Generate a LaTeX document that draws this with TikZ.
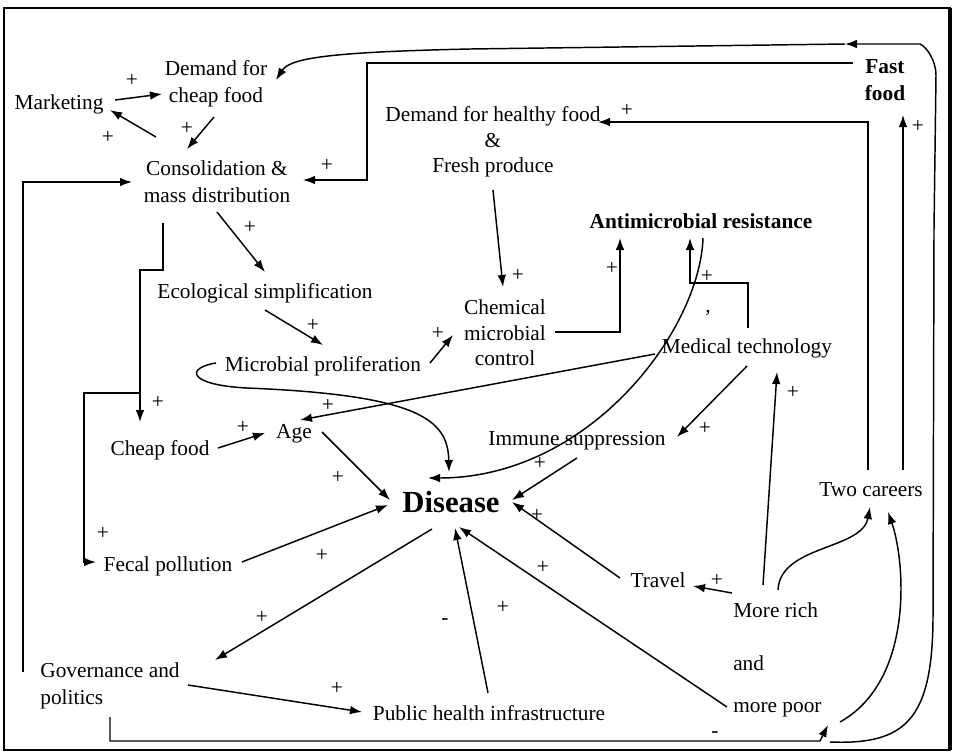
\documentclass[tikz,border=0pt]{standalone}
\usepackage{fontspec}
\setmainfont{Liberation Serif}
\usetikzlibrary{calc,arrows.meta}
\begin{document}
\begin{tikzpicture}[x=0.75pt,y=-0.75pt,
  txt/.style={inner sep=0pt,align=center,font=\fontsize{16}{20}\selectfont},
  btxt/.style={txt,font=\fontsize{16}{20}\selectfont\bfseries},
  lab/.style={inner sep=0pt,font=\fontsize{16}{20}\selectfont},
  conn/.style={line width=1.1pt},
  arr/.style={conn,-{Latex[length=9pt,width=6.5pt]}}]
\useasboundingbox (0,0) rectangle (954,754);
\draw[line width=1.5pt] (4,8) rectangle (950,750);
\draw[line width=3pt] (950,8) -- (950,750);

% nodes
\node[txt] (mkt) at (59,104) {Marketing};
\node[txt] (dcf) at (216,84) {Demand for\\cheap food};
\node[txt] (cons) at (217,182) {Consolidation \&\\mass distribution};
\node[txt,font=\fontsize{16}{19}\selectfont] (dhf) at (493,142) {Demand for healthy food\\\&\\Fresh produce};
\node[btxt] (fast) at (885,80) {Fast\\food};
\node[btxt] (amr) at (701,221) {Antimicrobial resistance};
\node[txt] (eco) at (265,293) {Ecological simplification};
\node[txt,font=\fontsize{16}{19}\selectfont] (chem) at (505,333) {Chemical\\microbial\\control};
\node[txt] (prol) at (323,366) {Microbial proliferation};
\node[txt] (med) at (747,348) {Medical technology};
\node[txt] (imm) at (577,441) {Immune suppression};
\node[txt] (cheap) at (160,450) {Cheap food};
\node[txt] (age) at (294,434) {Age};
\node[txt,font=\fontsize{23}{27}\selectfont\bfseries] (dis) at (451,502) {Disease};
\node[txt] (fecal) at (168,566) {Fecal pollution};
\node[txt,align=left] (gov) at (110,686) {Governance and\\politics};
\node[txt] (pub) at (489,713) {Public health infrastructure};
\node[txt] (travel) at (658,580) {Travel};
\node[txt,anchor=west] (rich) at (733,610) {More rich};
\node[txt,anchor=west] (and) at (733,663) {and};
\node[txt,anchor=west] (poor) at (733,710) {more poor};
\node[txt] (two) at (871,490) {Two careers};
\node[lab] (comma) at (708,313) {,};

% connectors
\draw[arr] ($(mkt)+(56,-4)$) -- ($(dcf)+(-54,10)$);
\draw[arr] ($(cons)+(-61,-45)$) -- ($(mkt)+(51,6)$);
\draw[arr] ($(dcf)+(-2,33)$) -- ($(cons)+(-30,-33)$);
\coordinate (loopmid) at (845,44);
\draw[arr] ($(poor.west)+(97,32)$) .. controls (905,745) and (932,720) .. (933,620) -- (934,230) -- (936,75) .. controls (936,62) and (928,48) .. (920,44) -- (loopmid);
\draw[arr] (loopmid) -- (470,49) .. controls (330,52) and (290,58) .. ($(dcf)+(60,-4)$);
\draw[arr] ($(fast)+(-32,-17)$) -| ($(cons)+(150,-2)$) -- ($(cons)+(86,-2)$);
\draw[arr] ($(two)+(-3,-20)$) |- ($(dhf)+(105,-20)$);
\draw[arr] ($(two)+(32,-20)$) -- ($(fast)+(18,35)$);
\draw[arr] ($(dhf)+(0,48)$) -- ($(chem)+(-2,-46)$);
\draw[arr] ($(chem)+(50,-1)$) -| ($(amr)+(-81,17)$);
\draw[arr] ($(med)+(1,-20)$) |- ($(amr)+(-11,62)$) -- ($(amr)+(-11,17)$);
\draw[arr] ($(amr)+(2,17)$) .. controls (700,330) and (590,478) .. ($(dis)+(-23,-24)$);
\draw[arr] ($(prol)+(-107,-3)$) .. controls (185,368) and (188,385) .. (247,388) .. controls (420,395) and (448,420) .. ($(dis)+(-2,-30)$);
\draw[arr] ($(prol)+(107,-3)$) -- ($(chem)+(-52,2)$);
\draw[arr] ($(eco)+(0,17)$) -- ($(prol)+(0,-21)$);
\draw[arr] ($(cons)+(0,30)$) -- ($(eco)+(0,-21)$);
\coordinate (br) at ($(cheap)+(-20,-57)$);
\draw[arr] ($(cons)+(-54,41)$) -- ($(cons)+(-54,88)$) -| ($(cheap)+(-20,-28)$);
\draw[arr] (br) -| ($(fecal)+(-84,-4)$) -- ($(fecal)+(-72,-4)$);
\draw[arr] ($(cheap)+(58,-2)$) -- ($(age)+(-29,-1)$);
\draw[arr] ($(med)+(-92,6)$) -- ($(age)+(6,-14)$);
\draw[arr] ($(age)+(28,-2)$) -- ($(dis)+(-61,-2)$);
\draw[arr] ($(imm)+(0,17)$) -- ($(dis)+(61,-2)$);
\draw[arr] ($(med)+(0,18)$) -- ($(imm)+(100,-4)$);
\draw[arr] ($(fecal)+(74,-4)$) -- ($(dis)+(-63,3)$);
\draw[arr] ($(dis)+(-19,27)$) -- ($(gov)+(105,-26)$);
\draw[arr] ($(gov)+(78,-1)$) -- ($(pub)+(-127,-1)$);
\draw[arr] ($(pub)+(-1,-20)$) -- ($(dis)+(4,26)$);
\draw[arr] ($(poor.west)+(-6,-3)$) -- ($(dis)+(8,25)$);
\draw[arr] ($(travel)+(-38,-2)$) -- ($(dis)+(61,0)$);
\draw[arr] ($(rich.west)+(-1,-17)$) -- ($(travel)+(35,6)$);
\draw[arr] ($(rich.west)+(30,-25)$) -- ($(med)+(30,24)$);
\draw[arr] ($(rich.west)+(45,-20)$) .. controls (780,545) and (862,550) .. ($(two)+(-1,17)$);
\draw[arr] ($(poor.west)+(107,12)$) .. controls (915,680) and (905,560) .. ($(two)+(17,22)$);
\draw[arr] ($(gov)+(0,31)$) |- ($(poor.west)+(87,31)$) -- ($(poor.west)+(95,15)$);
\draw[arr] ($(gov)+(-87,-14)$) |- ($(cons)+(-85,0)$);

% polarity labels
\foreach \p/\t [count=\i] in {
  {(132,80)}/+, {(108,137)}/+, {(187,128)}/+, {(327,165)}/+, {(627,110)}/+,
  {(918,126)}/+, {(518,275)}/+, {(612,268)}/+, {(707,276)}/+, {(313,325)}/+,
  {(438,333)}/+, {(250,227)}/+, {(158,402)}/+, {(103,533)}/+, {(243,427)}/+,
  {(328,405)}/+, {(338,477)}/+, {(540,463)}/+, {(705,428)}/+, {(793,392)}/+,
  {(322,555)}/+, {(262,617)}/+, {(337,688)}/+, {(445,622)}/-, {(503,607)}/+,
  {(543,567)}/+, {(537,515)}/+, {(717,580)}/+, {(715,735)}/-}
  \node[lab,name=l\i] at \p {\t};
\end{tikzpicture}
\end{document}
